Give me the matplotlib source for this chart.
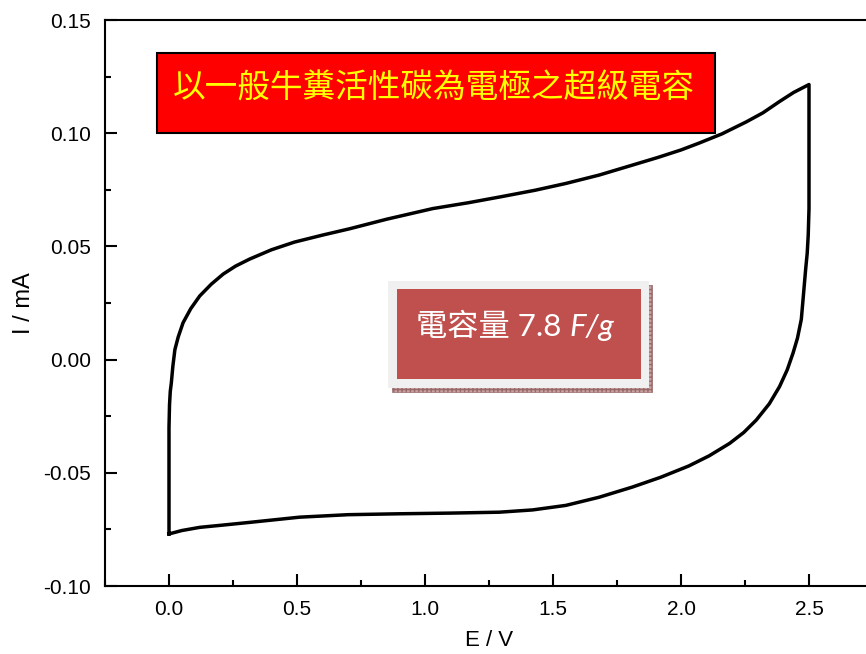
import matplotlib.pyplot as plt
from matplotlib.patches import Rectangle
from matplotlib.ticker import MultipleLocator

# cyclic voltammogram, anodic sweep 0 -> 2.5 V
fwd_E = [0.0, 0.0, 0.0, 0.002, 0.005, 0.009, 0.015, 0.023, 0.036, 0.055, 0.085,
         0.12, 0.165, 0.212, 0.26, 0.315, 0.40, 0.49, 0.60, 0.706, 0.85, 1.03,
         1.17, 1.30, 1.43, 1.55, 1.68, 1.81, 1.91, 2.0, 2.07, 2.16, 2.255,
         2.32, 2.385, 2.44, 2.5]
fwd_I = [-0.077, -0.050, -0.030, -0.020, -0.014, -0.0104, -0.003, 0.0044,
         0.010, 0.0163, 0.0225, 0.0281, 0.0333, 0.0378, 0.0413, 0.0444, 0.0485,
         0.0519, 0.0550, 0.0578, 0.0620, 0.0667, 0.0693, 0.0720, 0.0748, 0.0778,
         0.0815, 0.0859, 0.0893, 0.0926, 0.0956, 0.0997, 0.1050, 0.1090, 0.1140,
         0.1180, 0.1215]

# cathodic sweep 2.5 -> 0 V
rev_E = [2.5, 2.5, 2.497, 2.493, 2.487, 2.479, 2.47, 2.455, 2.438, 2.415,
         2.385, 2.345, 2.294, 2.245, 2.19, 2.11, 2.03, 1.92, 1.81, 1.68, 1.55,
         1.42, 1.29, 1.10, 0.90, 0.70, 0.51, 0.315, 0.21, 0.12, 0.05, 0.0]
rev_I = [0.1215, 0.0667, 0.055, 0.047, 0.040, 0.0295, 0.0178, 0.0095, 0.003,
         -0.0045, -0.0119, -0.0195, -0.0267, -0.0322, -0.037, -0.0425, -0.047,
         -0.0520, -0.0563, -0.0608, -0.0644, -0.0664, -0.0674, -0.0678, -0.0681,
         -0.0685, -0.0696, -0.0719, -0.0731, -0.0741, -0.0755, -0.077]

title_text = "以一般牛糞活性碳為電極之超級電容"
capacity_text = "電容量 7.8 "
capacity_unit = "F/g"

W, H = 866, 654
fig = plt.figure(figsize=(W / 100, H / 100), dpi=100)


def px(x, y):
    # pixel position (top-left origin) -> figure fraction
    return x / W, 1 - y / H


x0, y1 = px(105, 20)
x1, y0 = px(873, 586)
ax = fig.add_axes([x0, y0, x1 - x0, y1 - y0])

E = fwd_E + rev_E
I = fwd_I + rev_I
ax.plot(E, I, color="black", linewidth=2.5, solid_joinstyle="round")

ax.set_xlim(-0.25, 2.75)
ax.set_ylim(-0.10, 0.15)
ax.xaxis.set_major_locator(MultipleLocator(0.5))
ax.xaxis.set_minor_locator(MultipleLocator(0.25))
ax.yaxis.set_major_locator(MultipleLocator(0.05))
ax.yaxis.set_minor_locator(MultipleLocator(0.025))
ax.xaxis.set_major_formatter(plt.FormatStrFormatter("%.1f"))
ax.yaxis.set_major_formatter(plt.FormatStrFormatter("%.2f"))

for s in ax.spines.values():
    s.set_linewidth(1.5)
ax.tick_params(which="both", direction="in", width=1.5, top=False, right=False,
               labelsize=15, labelfontfamily="Liberation Sans")
ax.tick_params(which="major", length=8.6, pad=10)
ax.tick_params(which="minor", length=4.3)
ax.set_xlabel("E / V", fontsize=16, family="Liberation Sans", labelpad=8)
ax.set_ylabel("I / mA", fontsize=17, family="Liberation Sans", labelpad=6)

# red title box
bx0, by0 = px(157, 133)
bx1, by1 = px(715, 53)
fig.add_artist(Rectangle((bx0, by0), bx1 - bx0, by1 - by0, transform=fig.transFigure,
                         facecolor="#ff0000", edgecolor="black", linewidth=1.5))
tx, ty = px(434, 89)
fig.text(tx, ty, title_text, color="#ffff00", fontsize=23.5, ha="center", va="center",
         family=["Noto Sans CJK TC", "DejaVu Sans"])

# capacitance box with shadow and light frame
sx0, sy0 = px(392, 392)
sx1, sy1 = px(652, 285)
fig.add_artist(Rectangle((sx0, sy0), sx1 - sx0, sy1 - sy0, transform=fig.transFigure,
                         facecolor="#c9a3a3", edgecolor="#9a6a6a", linewidth=0.5,
                         hatch="++++"))
ox0, oy0 = px(388, 388)
ox1, oy1 = px(649, 281)
fig.add_artist(Rectangle((ox0, oy0), ox1 - ox0, oy1 - oy0, transform=fig.transFigure,
                         facecolor="#f0f0f0", edgecolor="none"))
ix0, iy0 = px(397, 379)
ix1, iy1 = px(641, 289)
fig.add_artist(Rectangle((ix0, iy0), ix1 - ix0, iy1 - iy0, transform=fig.transFigure,
                         facecolor="#c0504d", edgecolor="none"))
cx, cy = px(416, 336)
t1 = fig.text(cx, cy, capacity_text, color="white", fontsize=22.5, ha="left",
              va="baseline", family=["Lato", "Noto Sans CJK TC"])

# italic unit right after the number
fig.canvas.draw()
bb = t1.get_window_extent()
fig.text(bb.x1 / W, cy, capacity_unit, color="white", fontsize=22.5, ha="left",
         va="baseline", family="Lato", style="italic")

fig.savefig("out.png", dpi=100)
